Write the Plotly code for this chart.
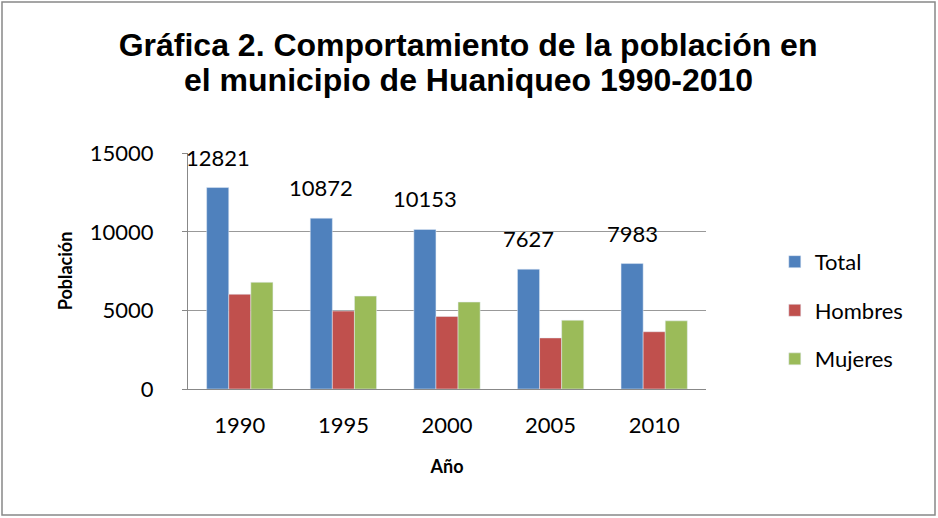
import plotly.graph_objects as go

years = ["1990", "1995", "2000", "2005", "2010"]
total = [12821, 10872, 10153, 7627, 7983]
hombres = [6030, 4960, 4620, 3250, 3645]
mujeres = [6791, 5912, 5533, 4377, 4338]

colors = {"Total": "#4F81BD", "Hombres": "#C0504D", "Mujeres": "#9BBB59"}
title_lines = ["Gráfica 2. Comportamiento de la población en",
               "el municipio de Huaniqueo 1990-2010"]

W, H = 938, 518
L, R, T, B = 188, 232, 153, 129
pw, ph = W - L - R, H - T - B

fig = go.Figure()
fig.add_trace(go.Bar(x=years, y=total, name="Total", marker_color=colors["Total"],
                     legendgroup="a"))
fig.add_trace(go.Bar(x=years, y=hombres, name="Hombres", marker_color=colors["Hombres"],
                     legendgroup="b"))
fig.add_trace(go.Bar(x=years, y=mujeres, name="Mujeres", marker_color=colors["Mujeres"],
                     legendgroup="c"))

bargap = 0.36
slot_px = pw / len(years) * (1 - bargap) / 3
for i, v in enumerate(total):
    fig.add_annotation(x=i, y=v, text=str(v), showarrow=False, yanchor="bottom",
                       xshift=-slot_px, yshift=15,
                       font=dict(family="Lato", size=22, color="black"))

title_font = dict(family="Liberation Sans", size=32, color="black", weight="bold")
fig.add_annotation(xref="paper", yref="paper", x=(468 - L) / pw, y=(H - B - 80) / ph,
                   text=title_lines[1], showarrow=False, xanchor="center", yanchor="middle",
                   font=title_font)

fig.update_layout(
    width=W, height=H,
    margin=dict(l=L, r=R, t=T, b=B),
    paper_bgcolor="white", plot_bgcolor="white",
    barmode="group", bargap=bargap, bargroupgap=0,
    title=dict(text=title_lines[0], x=0.499, xanchor="center", y=1 - 45 / H, yanchor="middle",
               font=title_font),
    font=dict(family="Lato", size=22, color="black"),
    legend=dict(xref="container", yref="container", x=0.826, y=0.535, xanchor="left", yanchor="top",
                font=dict(family="Lato", size=22), tracegroupgap=17, itemwidth=30),
    showlegend=True,
)
fig.update_xaxes(type="category", range=[-0.5, len(years) - 0.5], showline=True,
                 linecolor="#888888", linewidth=1, ticks="",
                 ticklabelstandoff=17,
                 title=dict(text="Año", font=dict(family="Lato", size=18, weight="bold"), standoff=22))
fig.update_yaxes(range=[0, 15020], tickvals=[0, 5000, 10000, 15000], tickformat="d",
                 showgrid=True, gridcolor="#999999", gridwidth=1,
                 showline=True, linecolor="#888888", linewidth=1,
                 ticks="outside", ticklen=5, tickcolor="#888888",
                 ticklabelstandoff=24, zeroline=False,
                 title=dict(text="Población", font=dict(family="Lato", size=18, weight="bold"), standoff=12))

fig.add_shape(type="rect", xref="paper", yref="paper",
              x0=(2 - L) / pw, x1=(935 - L) / pw,
              y0=(H - B - 515) / ph, y1=(H - B - 2) / ph,
              line=dict(color="#888888", width=1.5),
              fillcolor="rgba(0,0,0,0)", layer="below")

fig.write_html("out.html", config={"displayModeBar": False},
               post_script="document.body.style.margin='0';document.body.style.overflow='hidden';")
